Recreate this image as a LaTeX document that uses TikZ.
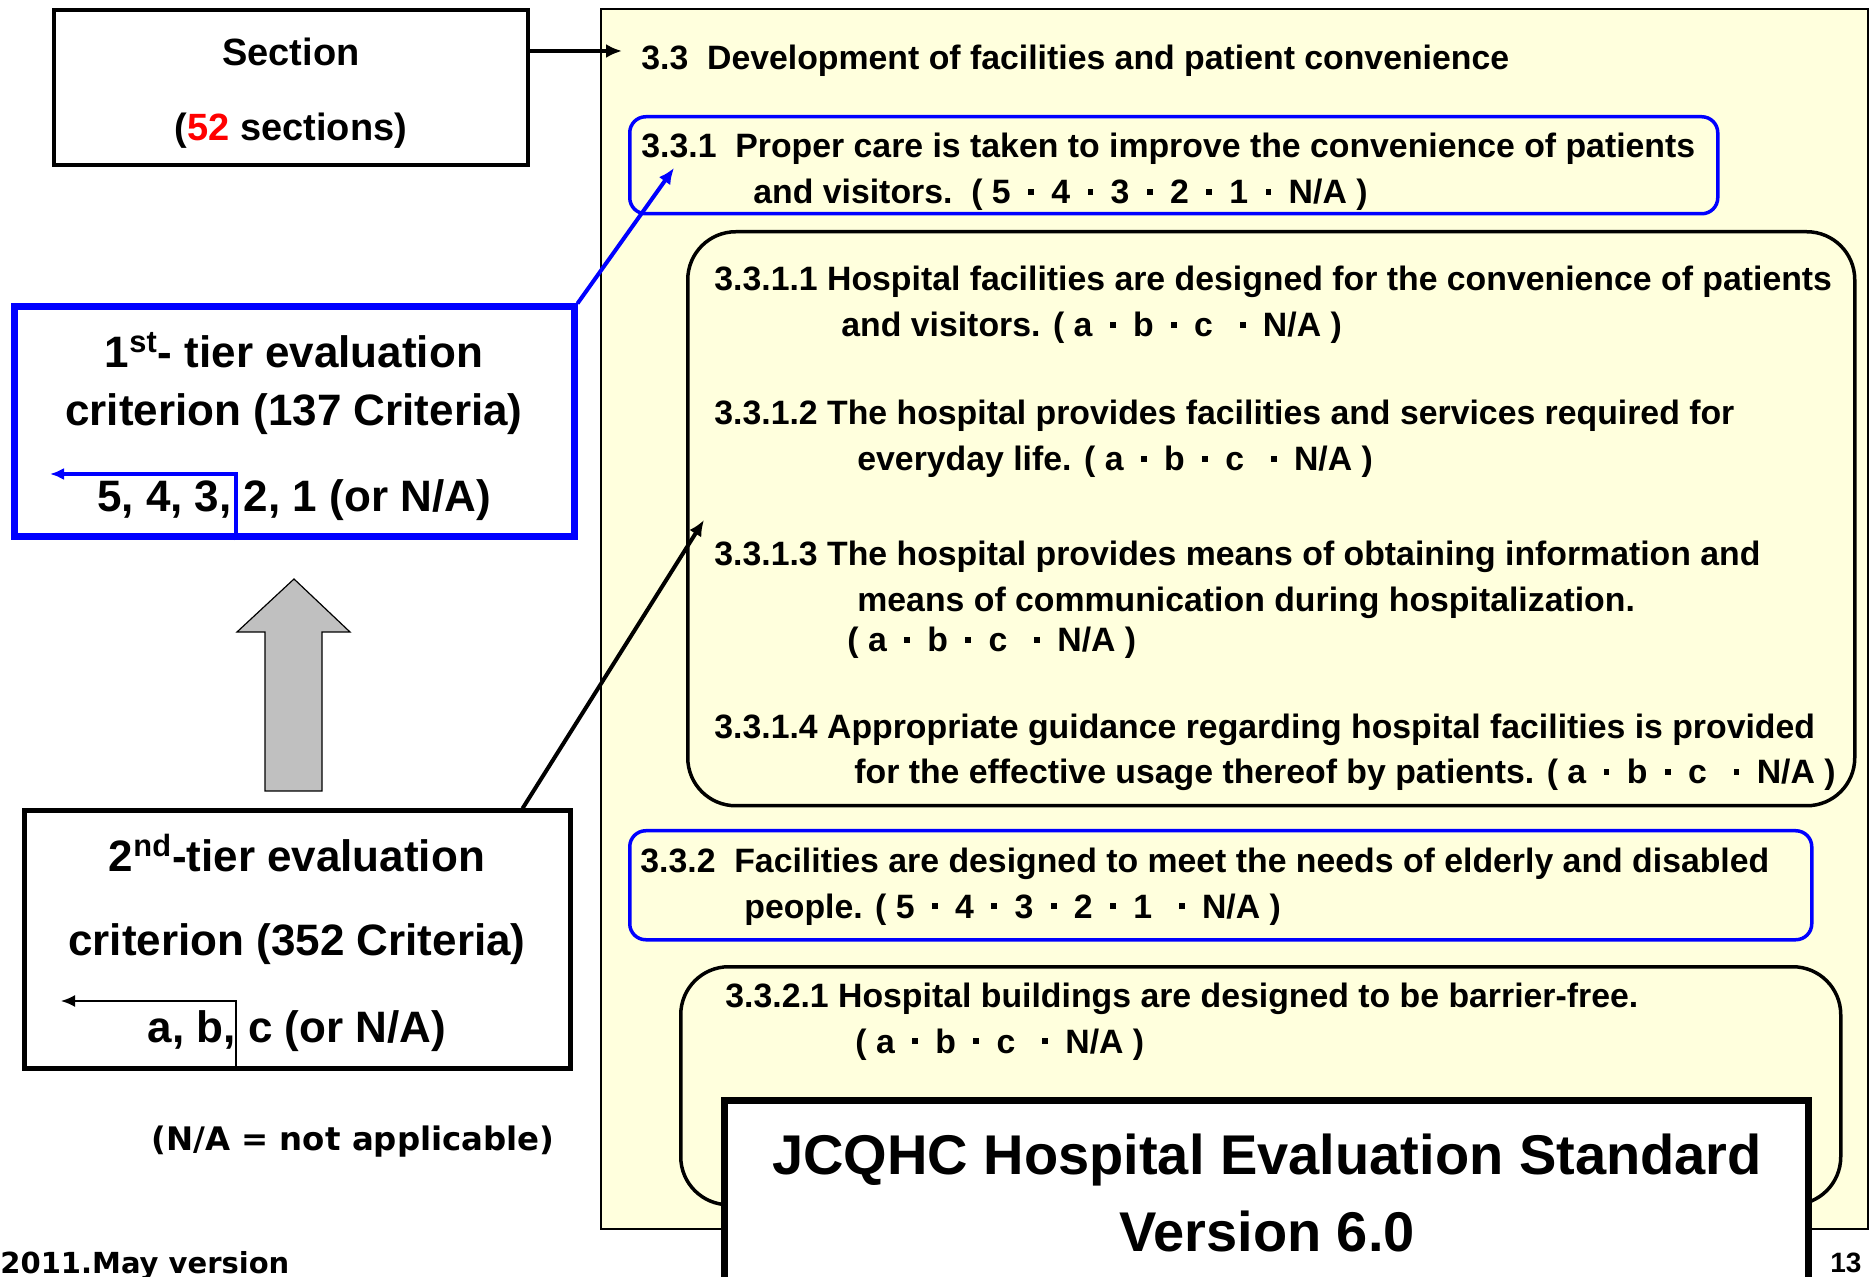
\documentclass[tikz,border=0pt]{standalone}
\usepackage{fontspec}
\setmainfont{Liberation Sans}
\newfontfamily\notefont{DejaVu Sans}
\usetikzlibrary{arrows.meta,positioning}

\definecolor{panelyellow}{RGB}{255,255,221}
\definecolor{critblue}{RGB}{0,0,255}
\definecolor{blockgray}{RGB}{192,192,192}
\newcommand{\ptdot}{\makebox[1.2em]{\rule[0.28em]{0.17em}{0.17em}}}

\begin{document}
\begin{tikzpicture}[x=0.5pt,y=-0.5pt,
    tierbox/.style={rectangle, draw, align=center, font=\fontsize{22}{29}\selectfont\bfseries},
    critbox/.style={rectangle, draw=critblue, line width=1.75pt, rounded corners=8pt, anchor=north west},
    subbox/.style={rectangle, draw, line width=1.75pt, rounded corners=24pt, anchor=north west},
    crit/.style={anchor=base west, align=left, inner sep=0pt, font=\fontsize{16.9}{23}\selectfont\bfseries},
    link/.style={line width=2pt, -{Latex[length=8pt,width=7pt]}},
    back/.style={-{Latex[length=7pt,width=6pt]}}]
\useasboundingbox (0,0) rectangle (1869,1277);

% left column
\node[tierbox, line width=2pt, minimum width=237pt, minimum height=77.5pt,
      font=\fontsize{19}{23}\selectfont\bfseries] (section) at (291,87.5)
      {\rule{0pt}{19pt}Section\\[14.5pt](\textcolor{red}{52} sections)};
\node[tierbox, draw=critblue, line width=3.5pt, minimum width=280pt, minimum height=115pt] (tier1) at (294,422)
      {\rule{0pt}{22pt}1\textsuperscript{st}- tier evaluation\\criterion (137 Criteria)\\[14pt]5, 4, 3, 2, 1 (or N/A)};
\node[tierbox, line width=2.5pt, minimum width=273pt, minimum height=128.5pt] (tier2) at (297,939.5)
      {\rule{0pt}{22pt}2\textsuperscript{nd}-tier evaluation\\[13pt]criterion (352 Criteria)\\[14.5pt]a, b, c (or N/A)};
\node[anchor=base, font={\notefont\fontsize{16.2}{20}\selectfont\bfseries}] (nanote) at (353,1150)
      {(N/A = not applicable)};
\node[anchor=base west, inner sep=0pt, font={\notefont\fontsize{14.5}{18}\selectfont\bfseries}] (version) at (0,1273)
      {2011.May version};

% block arrow 2nd tier -> 1st tier
\draw[fill=blockgray, line width=0.6pt] (265,791) -- (265,632) -- (237,632) -- (294,579)
      -- (350,632) -- (322,632) -- (322,791) -- cycle;

\coordinate (split1) at (236,474);
\coordinate (tip1) at (50,474);
\draw[back, draw=critblue, line width=1.6pt] (split1 |- tier1.south) -- (split1) -- (tip1);
\coordinate (split2) at (236,1001);
\coordinate (tip2) at (61,1001);
\draw[back, line width=1pt] (split2 |- tier2.south) -- (split2) -- (tip2);

% standard panel
\node[draw, line width=1pt, fill=panelyellow, anchor=north west, inner sep=0pt,
      minimum width=633.5pt, minimum height=610pt] (panel) at (600,8) {};
\node[crit] (sec33) at (641,70) {3.3\ \ Development of facilities and patient convenience};

\node[critbox, minimum width=544pt, minimum height=48.5pt] (box331) at (628,115) {};
\node[crit] (c331) at (641,204) {3.3.1\ \ Proper care is taken to improve the convenience of patients\\
      \hspace*{56pt}and visitors.\ \ ( 5\ptdot 4\ptdot 3\ptdot 2\ptdot 1\ptdot N/A )};

\node[subbox, minimum width=583.5pt, minimum height=287pt] (box331x) at (686,230) {};
\node[crit] (c3311) at (714,337) {3.3.1.1 Hospital facilities are designed for the convenience of patients\\
      \hspace*{63.5pt}and visitors. ( a\ptdot b\ptdot c \ptdot N/A )};
\node[crit] (c3312) at (714,471) {3.3.1.2 The hospital provides facilities and services required for\\
      \hspace*{71.5pt}everyday life. ( a\ptdot b\ptdot c \ptdot N/A )};
\node[crit] (c3313) at (714,652) {3.3.1.3 The hospital provides means of obtaining information and\\
      \hspace*{71.5pt}means of communication during hospitalization.\\[-3pt]
      \hspace*{66.5pt}( a\ptdot b\ptdot c \ptdot N/A )};
\node[crit] (c3314) at (714,784) {3.3.1.4 Appropriate guidance regarding hospital facilities is provided\\
      \hspace*{70pt}for the effective usage thereof by patients. ( a\ptdot b\ptdot c \ptdot N/A )};

\node[critbox, minimum width=591pt, minimum height=54.5pt] (box332) at (628,829) {};
\node[crit] (c332) at (640,918) {3.3.2\ \ Facilities are designed to meet the needs of elderly and disabled\\
      \hspace*{52pt}people. ( 5\ptdot 4\ptdot 3\ptdot 2\ptdot 1 \ptdot N/A )};

\node[subbox, minimum width=580pt, minimum height=119pt] (box332x) at (679,965) {};
\node[crit] (c3321) at (725,1053) {3.3.2.1 Hospital buildings are designed to be barrier-free.\\
      \hspace*{65pt}( a\ptdot b\ptdot c \ptdot N/A )};

\node[draw, line width=3.5pt, fill=white, anchor=north west, minimum width=542pt, minimum height=100pt] (stdbox) at (721,1097) {};
\node[anchor=base, align=center, font=\fontsize{28}{38.5}\selectfont\bfseries] (stdtitle) at (1267,1251)
      {JCQHC Hospital Evaluation Standard\\Version 6.0};
\node[anchor=base west, inner sep=0pt, font=\fontsize{14}{17}\selectfont\bfseries] (pageno) at (1830,1272) {13};

% connectors
\coordinate (hdrin) at (622,51);
\draw[link] (section.east |- hdrin) -- (hdrin);
\coordinate (in331) at (674,168);
\draw[link, draw=critblue] (tier1.north east) -- (in331);
\coordinate (in3313) at (704,520);
\draw[link] ([xshift=-25pt]tier2.north east) -- (in3313);
\end{tikzpicture}
\end{document}
